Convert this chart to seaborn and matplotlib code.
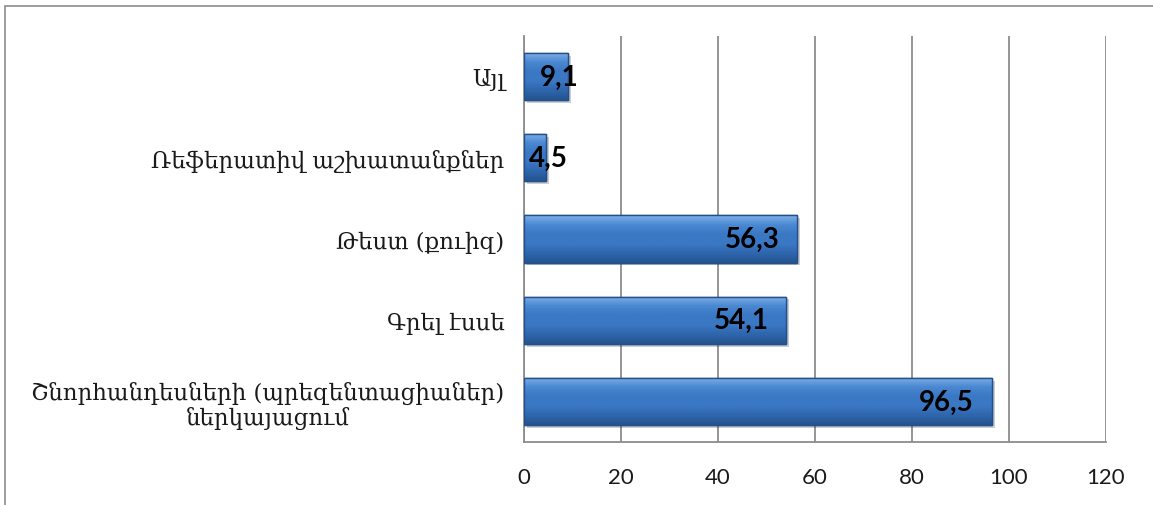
import matplotlib
matplotlib.use("Agg")
import matplotlib.pyplot as plt
import matplotlib.patches as mpatches
import matplotlib.patheffects as pe
import numpy as np
import pandas as pd
import seaborn as sns
from matplotlib.colors import LinearSegmentedColormap

categories = [
    "Այլ",
    "Ռեֆերատիվ աշխատանքներ",
    "Թեստ (քուիզ)",
    "Գրել էսսե",
    "Շնորհանդեսների (պրեզենտացիաներ)\nներկայացում",
]
values = [9.1, 4.5, 56.3, 54.1, 96.5]
value_labels = ["9,1", "4,5", "56,3", "54,1", "96,5"]
x_ticks = [0, 20, 40, 60, 80, 100, 120]

sns.set_theme(style="white")
plt.rcParams["font.family"] = ["Lato", "DejaVu Sans"]

df = pd.DataFrame({"category": categories, "value": values})

fig = plt.figure(figsize=(11.53, 5.06), dpi=100)
ax = fig.add_axes([0.4545, 0.1245, 0.5047, 0.8024])

sns.barplot(data=df, y="category", x="value", orient="h", color="#3B78C4",
            width=0.58, edgecolor="#244f8a", linewidth=1.0, saturation=1,
            ax=ax, zorder=3)

# bevel-like shading inside each bar (top light, bottom dark)
bevel = LinearSegmentedColormap.from_list(
    "bevel", ["#7fb0e8", "#4a88d2", "#3b78c4", "#3b78c4", "#2f66ad", "#24548f"])
grad = np.linspace(0, 1, 64).reshape(-1, 1)
for bar in list(ax.patches):
    bar.set_path_effects([pe.SimplePatchShadow(offset=(2, -2), alpha=0.22),
                          pe.Normal()])
    x0, y0 = bar.get_x(), bar.get_y()
    w, h = bar.get_width(), bar.get_height()
    im = ax.imshow(grad, cmap=bevel, aspect="auto", zorder=3.5,
                   extent=(x0, x0 + w, y0 + h, y0), origin="upper")
    im.set_clip_path(bar)
    ax.add_patch(mpatches.Rectangle((x0, y0), w, h, fill=False,
                                    edgecolor="#244f8a", linewidth=1.0, zorder=3.6))

ax.set_xlim(0, 120)
ax.set_ylim(4.5, -0.5)
ax.set_xticks(x_ticks)
ax.set_xticklabels([str(t) for t in x_ticks], fontsize=16, color="#1a1a1a")
ax.tick_params(axis="x", pad=18, length=0)
ax.tick_params(axis="y", pad=14, length=0)
ax.set_yticks(range(len(categories)))
ax.set_yticklabels(categories, fontsize=16.5, family=["DejaVu Serif", "DejaVu Sans"],
                   color="#1a1a1a", multialignment="center", linespacing=1.1)
ax.set_xlabel("")
ax.set_ylabel("")

ax.grid(axis="x", color="#8c8c8c", linewidth=1.3, zorder=0)
ax.grid(axis="y", visible=False)
for side in ["top", "right"]:
    ax.spines[side].set_visible(False)
for side in ["left", "bottom"]:
    ax.spines[side].set_color("#8c8c8c")
    ax.spines[side].set_linewidth(1.3)

for i, (v, lab) in enumerate(zip(values, value_labels)):
    xr = v - 3.7 if v > 20 else v / 2 + 6.8
    ax.text(xr, i, lab, ha="right", va="center", fontsize=20,
            fontweight="bold", color="black", zorder=5)

frame = mpatches.Rectangle((5 / 1153, -0.05), 1.2, 1 - 7 / 506 + 0.05,
                           transform=fig.transFigure, fill=False,
                           edgecolor="#8c8c8c", linewidth=1.2, clip_on=False)
fig.add_artist(frame)

fig.savefig("out.png", dpi=100)
